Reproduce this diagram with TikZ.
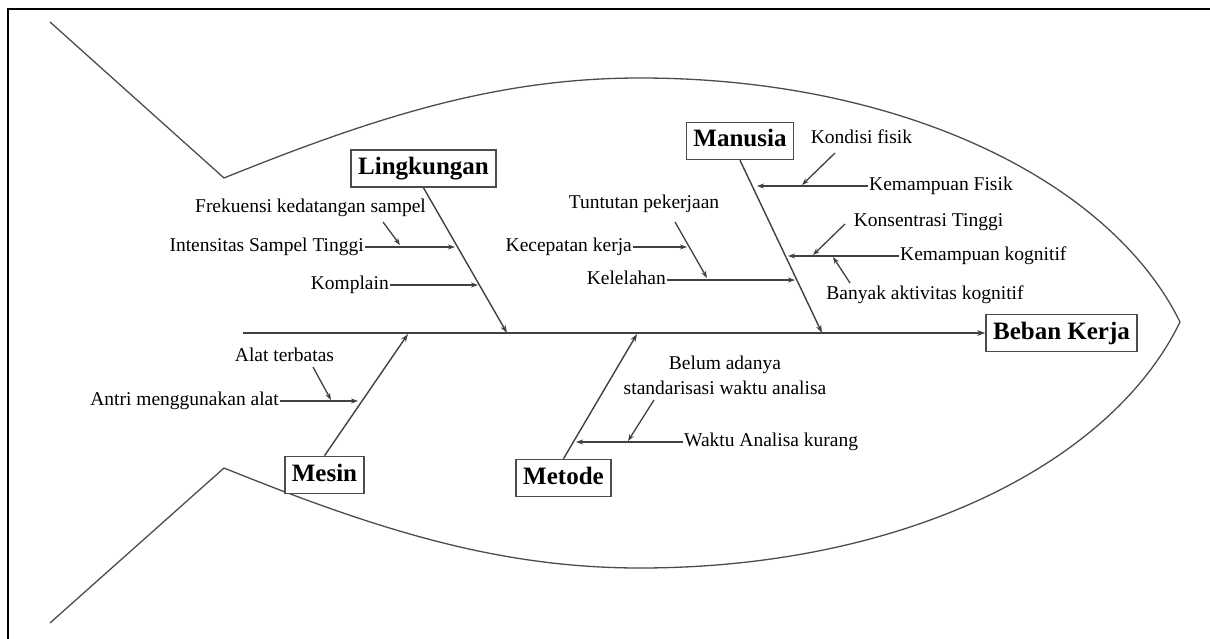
\documentclass[tikz,border=0pt]{standalone}
\usepackage{fontspec}
\setmainfont{Liberation Serif}
\usetikzlibrary{arrows.meta,calc}
\tikzset{
  lbl/.style={inner sep=1pt, font=\fontsize{19.5}{25}\selectfont, text height=13pt, text depth=4pt},
  cat/.style={draw=black!70, line width=1.6pt, fill=white, font=\bfseries\fontsize{25}{28}\selectfont,
              inner xsep=7pt, minimum height=37pt, text height=17pt, text depth=5pt},
  arr/.style={draw=black!75, line width=1.3pt, -{Stealth[length=7pt,width=5pt]}},
  bone/.style={draw=black!75, line width=1.4pt, -{Stealth[length=8pt,width=5.5pt]}},
  fish/.style={draw=black!70, line width=1.3pt},
  frame/.style={draw=black, line width=2.4pt},
}
\begin{document}
\begin{tikzpicture}[x=1pt,y=-1pt]
\useasboundingbox (0,0) rectangle (1210,639);
% frame (left and top edges visible)
\draw[frame] (8,639) -- (8,9) -- (1210,9);
% fish outline
\draw[fish] (50,22) -- (224,178)
  .. controls (380,115) and (500,78) .. (640,78)
  .. controls (900,78) and (1110,180) .. (1180,322)
  .. controls (1110,466) and (900,568) .. (640,568)
  .. controls (500,568) and (380,531) .. (224,468)
  -- (50,623);
% spine
\coordinate (tail) at (243,333);
\node[cat] (beban) at (1061.5,333) {Beban Kerja};
\draw[bone] (tail) -- (beban.west);
% category boxes
\node[cat] (ling) at (423.5,168.5) {Lingkungan};
\node[cat] (manu) at (740,141) {Manusia};
\node[cat] (mesin) at (324.5,475) {Mesin};
\node[cat] (metode) at (563.5,478) {Metode};
% bone end points on spine
\coordinate (lingE) at (507,333);
\coordinate (manuE) at (822,333);
\coordinate (mesinE) at (408,334);
\coordinate (metodeE) at (637,334);
\draw[bone] (ling.south) -- (lingE);
\draw[bone] (manu.south) -- (manuE);
\draw[bone] (mesin.north) -- (mesinE);
\draw[bone] (metode.north) -- (metodeE);
% Lingkungan causes
\node[lbl] (frek) at (310.5,208) {Frekuensi kedatangan sampel};
\node[lbl,anchor=east] (intens) at (365,247) {Intensitas Sampel Tinggi};
\node[lbl,anchor=east] (kompl) at (390,285) {Komplain};
\coordinate (intensE) at (455,247);
\coordinate (komplE) at (478,285);
\draw[arr] (intens.east) -- (intensE);
\draw[arr] (kompl.east) -- (komplE);
\coordinate (frekS) at (383,222);
\coordinate (frekE) at (400,245);
\draw[arr] (frekS) -- (frekE);
% Manusia causes (left side)
\node[lbl] (tuntut) at (644,204) {Tuntutan pekerjaan};
\node[lbl,anchor=east] (kecep) at (633,247) {Kecepatan kerja};
\node[lbl,anchor=east] (kelel) at (667,280) {Kelelahan};
\coordinate (kecepE) at (687,247);
\coordinate (kelelE) at (795,280);
\draw[arr] (kecep.east) -- (kecepE);
\draw[arr] (kelel.east) -- (kelelE);
\coordinate (tuntutS) at (675,222);
\coordinate (tuntutE) at (707,278);
\draw[arr] (tuntutS) -- (tuntutE);
% Manusia causes (right side)
\node[lbl] (kondisi) at (861.5,139) {Kondisi fisik};
\node[lbl,anchor=west] (kemfis) at (868,186) {Kemampuan Fisik};
\node[lbl] (konsen) at (928.5,222) {Konsentrasi Tinggi};
\node[lbl,anchor=west] (kemkog) at (899,256) {Kemampuan kognitif};
\node[lbl] (banyak) at (925,295) {Banyak aktivitas kognitif};
\coordinate (kemfisE) at (757,186);
\coordinate (kemkogE) at (788,256);
\draw[arr] (kemfis.west) -- (kemfisE);
\draw[arr] (kemkog.west) -- (kemkogE);
\coordinate (kondisiS) at (835,153);
\coordinate (kondisiE) at (802,185);
\draw[arr] (kondisiS) -- (kondisiE);
\coordinate (konsenS) at (845,224);
\coordinate (konsenE) at (813,255);
\draw[arr] (konsenS) -- (konsenE);
\coordinate (banyakS) at (850,283);
\coordinate (banyakE) at (833,257);
\draw[arr] (banyakS) -- (banyakE);
% Mesin causes
\node[lbl] (alat) at (284.5,357) {Alat terbatas};
\node[lbl,anchor=east] (antri) at (280,401) {Antri menggunakan alat};
\coordinate (antriE) at (358,401);
\draw[arr] (antri.east) -- (antriE);
\coordinate (alatS) at (313,367);
\coordinate (alatE) at (331,400);
\draw[arr] (alatS) -- (alatE);
% Metode causes
\node[lbl,align=center] (belum) at (725,390) {Belum adanya\\standarisasi waktu analisa};
\node[lbl,anchor=west] (waktu) at (683,442) {Waktu Analisa kurang};
\coordinate (waktuE) at (576,442);
\draw[arr] (waktu.west) -- (waktuE);
\coordinate (belumS) at (654,400);
\coordinate (belumE) at (628,441);
\draw[arr] (belumS) -- (belumE);
\end{tikzpicture}
\end{document}
